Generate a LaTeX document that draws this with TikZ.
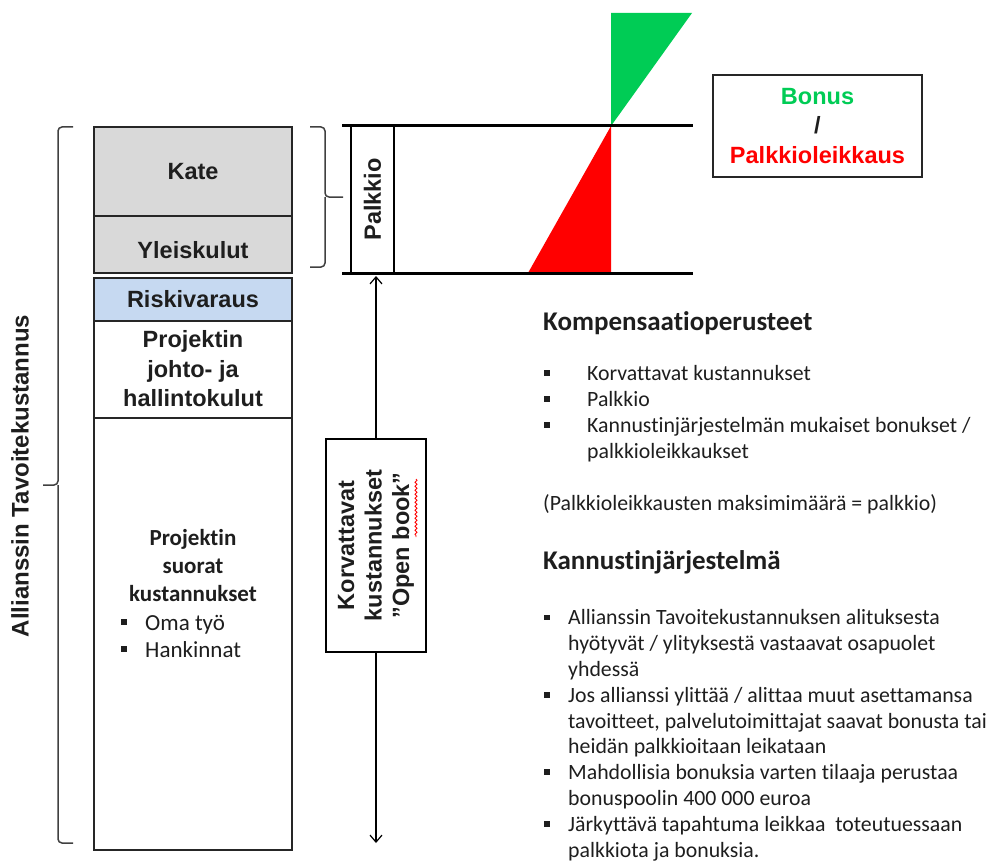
\documentclass[tikz,border=0pt]{standalone}
\usepackage{fontspec}
\setmainfont{Liberation Sans}
\newfontfamily\calfont[Ligatures=NoCommon]{Carlito}
\usetikzlibrary{arrows.meta,decorations.pathmorphing}
\definecolor{boxgray}{RGB}{217,217,217}
\definecolor{riskblue}{RGB}{198,217,241}
\definecolor{bonusgreen}{RGB}{0,204,85}
\definecolor{bracegray}{RGB}{64,64,64}
\definecolor{inkgray}{RGB}{30,30,30}
% small square bullet
\newcommand\sqb{\rule[0.2em]{0.27em}{0.27em}}
\begin{document}
\begin{tikzpicture}[x=1pt,y=-1pt,
  colbox/.style={draw=black!85, line width=1.5pt, minimum width=198pt, inner sep=0pt},
  arialb/.style={font=\fontsize{23.5}{29.5}\selectfont\bfseries, text=inkgray, align=center},
  calb/.style={font=\calfont\fontsize{23}{28}\selectfont\bfseries, text=inkgray, align=center},
  calr/.style={font=\calfont\fontsize{23}{27}\selectfont, text=inkgray, align=left, inner sep=0pt},
  body/.style={font=\calfont\fontsize{21.8}{25.8}\selectfont, text=inkgray, align=left, inner sep=0pt},
  head/.style={font=\calfont\fontsize{27}{30}\selectfont\bfseries, text=inkgray, inner sep=0pt},
  brace/.style={draw=bracegray, line width=1.5pt, rounded corners=4pt},
  level/.style={line width=3pt},
  barb/.style={-{Straight Barb[length=7pt,width=12pt,line width=1.2pt]}, line width=1.2pt}
]
\useasboundingbox (0,0) rectangle (987,861);

% ---- cost column ----
\node[colbox, fill=boxgray, minimum height=89pt] (kate) at (193,171.5) {};
\node[arialb] (katet) at (193,172) {Kate};
\node[colbox, fill=boxgray, minimum height=57pt] (yleis) at (193,244.5) {};
\node[arialb] (yleist) at (193,250) {Yleiskulut};
\node[colbox, fill=riskblue, minimum height=43pt] (riski) at (193,299.5) {};
\node[arialb] (riskit) at (193,299.5) {Riskivaraus};
\node[colbox, fill=white, minimum height=97pt] (johto) at (193,369.5) {};
\node[arialb] (johtot) at (193,369) {Projektin\\johto- ja\\hallintokulut};
\node[colbox, fill=white, minimum height=432pt] (suorat) at (193,634) {};
\node[calb] (suoratt) at (193,566) {Projektin\\suorat\\kustannukset};
% multi-line nodes: the base anchor sits on the last line
\node[calr, anchor=base west] (suoratl) at (121,657)
  {\makebox[24pt][l]{\sqb}Oma työ\\\makebox[24pt][l]{\sqb}Hankinnat};

% ---- brace over the whole target cost ----
\coordinate (bt) at (73,127);
\coordinate (bm) at (43,485);
\coordinate (bb) at (73,843);
\draw[brace] (bt) -| (58,485) -- (bm);
\draw[brace] (58,485) |- (bb);
\node[font=\fontsize{24}{29}\selectfont\bfseries, text=inkgray, rotate=90] (total) at (20,476)
  {Allianssin Tavoitekustannus};

% ---- brace for the fee ----
\coordinate (ft) at (310,127);
\coordinate (fm) at (343,197);
\coordinate (fb) at (310,267);
\draw[brace] (ft) -| (325,197) -- (fm);
\draw[brace] (325,197) |- (fb);

% ---- bonus / fee-cut triangles ----
\fill[bonusgreen] (611,13) -- (692,13) -- (611,126) -- cycle;
\fill[red] (611,126) -- (611,273) -- (528,273) -- cycle;

% ---- fee band ----
\node[draw=black, line width=1.2pt, rotate=90, minimum width=147pt, minimum height=43pt,
  inner sep=0pt, arialb] (palkkio) at (372.5,199.5) {Palkkio};
\coordinate (lt1) at (342,126);
\coordinate (lt2) at (693,126);
\coordinate (lb1) at (342,273);
\coordinate (lb2) at (693,273);
\draw[level] (lt1) -- (lt2);
\draw[level] (lb1) -- (lb2);

% ---- legend box ----
\node[draw=black!85, line width=1.5pt, minimum width=209pt, minimum height=102pt,
  arialb] (legend) at (817.5,126)
  {\textcolor{bonusgreen}{Bonus}\\/\\\textcolor{red}{Palkkioleikkaus}};

% ---- reimbursable costs ----
\node[draw=black, line width=1.2pt, rotate=90, minimum width=213pt, minimum height=100pt,
  inner sep=0pt, font=\fontsize{23.5}{27.5}\selectfont\bfseries, text=inkgray, align=center]
  (korv) at (376,545.5) {Korvattavat\\kustannukset\\”Open book”};
\draw[red, line width=0.8pt, decorate, decoration={snake, amplitude=1pt, segment length=4pt}]
  (416,479) -- (416,537);
\coordinate (ptop) at (376,276);
\coordinate (pbot) at (376,843);
\draw[barb] (korv.east) -- (ptop);
\draw[barb] (korv.west) -- (pbot);

% ---- compensation text ----
\node[head, anchor=base west] (h1) at (543,330) {Kompensaatioperusteet};
\node[body, anchor=base west] (l1) at (544,458)
  {\makebox[43pt][l]{\sqb}Korvattavat kustannukset\\
   \makebox[43pt][l]{\sqb}Palkkio\\
   \makebox[43pt][l]{\sqb}Kannustinjärjestelmän mukaiset bonukset /\\
   \hspace*{43pt}palkkioleikkaukset};
\node[body, anchor=base west] (note) at (543,510) {(Palkkioleikkausten maksimimäärä = palkkio)};
\node[head, anchor=base west] (h2) at (543,569) {Kannustinjärjestelmä};
\node[body, anchor=base west] (l2) at (544,857)
  {\makebox[24pt][l]{\sqb}Allianssin Tavoitekustannuksen alituksesta\\
   \hspace*{24pt}hyötyvät / ylityksestä vastaavat osapuolet\\
   \hspace*{24pt}yhdessä\\
   \makebox[24pt][l]{\sqb}Jos allianssi ylittää / alittaa muut asettamansa\\
   \hspace*{24pt}tavoitteet, palvelutoimittajat saavat bonusta tai\\
   \hspace*{24pt}heidän palkkioitaan leikataan\\
   \makebox[24pt][l]{\sqb}Mahdollisia bonuksia varten tilaaja perustaa\\
   \hspace*{24pt}bonuspoolin 400 000 euroa\\
   \makebox[24pt][l]{\sqb}Järkyttävä tapahtuma leikkaa\ \ toteutuessaan\\
   \hspace*{24pt}palkkiota ja bonuksia.};
\end{tikzpicture}
\end{document}
